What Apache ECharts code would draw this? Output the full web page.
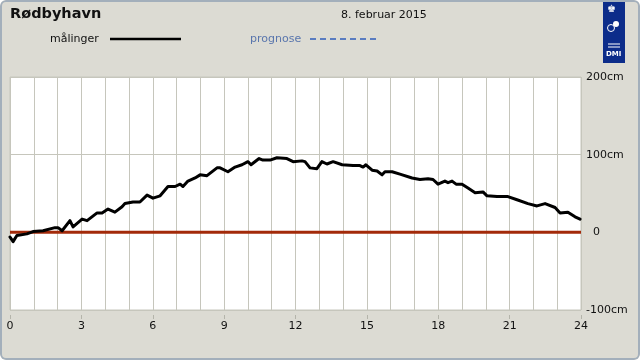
<!DOCTYPE html>
<html>
<head>
<meta charset="utf-8">
<script src="https://cdn.jsdelivr.net/npm/echarts@6/dist/echarts.min.js"></script>
<style>
  html, body { margin: 0; padding: 0; background: #ffffff; }
  #wrap { position: relative; width: 640px; height: 360px; background: #dcdbd3; border-radius: 6px; overflow: hidden; }
  #chart { position: absolute; left: 0; top: 0; width: 640px; height: 360px; }
  #frame { position: absolute; left: 0; top: 0; width: 640px; height: 360px; box-sizing: border-box;
           border: 2px solid #a3afbb; border-radius: 6px; pointer-events: none; }
</style>
</head>
<body>
<div id="wrap"><div id="chart"></div><div id="frame"></div></div>
<script>
// ---- data ----
const stationName = 'Rødbyhavn';
const dateLabel = '8. februar 2015';
const legendMeasured = 'målinger';
const legendForecast = 'prognose';
const hourTicks = [0, 3, 6, 9, 12, 15, 18, 21, 24];
const levelTicks = [-100, 0, 100, 200];

const hours = [
  0.00, 0.13, 0.29, 0.71, 0.97, 1.39, 1.89, 2.02, 2.19, 2.52, 2.65, 3.03, 3.24, 3.66, 3.87,
  4.12, 4.41, 4.71, 4.83, 5.17, 5.46, 5.76, 6.01, 6.31, 6.64, 6.94, 7.15, 7.27, 7.48, 7.78,
  7.99, 8.28, 8.70, 8.83, 9.16, 9.46, 9.75, 10.00, 10.13, 10.47, 10.63, 10.93, 11.22, 11.64, 11.90,
  12.27, 12.40, 12.61, 12.90, 13.11, 13.32, 13.58, 13.96, 14.42, 14.71, 14.84, 14.96, 15.22, 15.43, 15.64,
  15.76, 16.06, 16.39, 16.90, 17.23, 17.57, 17.78, 17.99, 18.28, 18.41, 18.58, 18.75, 19.00, 19.25, 19.55,
  19.88, 20.05, 20.47, 20.93, 21.31, 21.77, 22.15, 22.49, 22.91, 23.12, 23.45, 23.75, 23.96
];
const levels = [
  -6, -12, -4, -2, 1, 2, 6, 6, 2, 15, 7, 17, 15, 25, 25,
  30, 26, 33, 37, 39, 39, 48, 44, 47, 59, 59, 62, 59, 66, 70,
  74, 73, 83, 83, 78, 84, 87, 91, 87, 95, 93, 93, 96, 95, 91,
  92, 91, 83, 82, 91, 88, 91, 87, 86, 86, 84, 87, 80, 79, 74,
  78, 78, 75, 70, 68, 69, 68, 62, 66, 64, 66, 62, 62, 57, 51,
  52, 47, 46, 46, 42, 37, 34, 37, 32, 25, 26, 20, 17
];
const zeroLevel = [[0, 0], [24, 0]];

// ---- chart ----
const chart = echarts.init(document.getElementById('chart'), null, { renderer: 'canvas' });
const FONT = 'DejaVu Sans';
const gridColor = '#c6c6bc';

const option = {
  animation: false,
  backgroundColor: 'transparent',
  textStyle: { fontFamily: FONT },
  grid: {
    left: 10, right: 59, top: 77, bottom: 50,
    show: true, backgroundColor: '#ffffff', borderColor: gridColor, borderWidth: 1
  },
  xAxis: [
    {
      type: 'value', min: 0, max: 24, interval: 1,
      axisLine: { show: false }, axisTick: { show: false }, axisLabel: { show: false },
      splitLine: { show: true, lineStyle: { color: gridColor, width: 1 } }
    },
    {
      type: 'value', min: 0, max: 24, interval: 3, position: 'bottom', offset: 5,
      axisLine: { show: false },
      axisTick: { show: true, length: 4, lineStyle: { color: '#b4b4aa' } },
      axisLabel: {
        show: true, margin: 6, fontSize: 11, color: '#111', fontFamily: FONT,
        formatter: v => hourTicks.includes(v) ? String(v) : ''
      },
      splitLine: { show: false }
    }
  ],
  yAxis: {
    type: 'value', min: levelTicks[0], max: levelTicks[levelTicks.length - 1], interval: 100,
    position: 'right',
    axisLine: { show: false }, axisTick: { show: false },
    axisLabel: {
      margin: 5, fontSize: 11, color: '#111', fontFamily: FONT,
      formatter: v => v === 0 ? '  0' : v + 'cm'
    },
    splitLine: { show: true, lineStyle: { color: gridColor, width: 1 } }
  },
  series: [
    {
      name: 'zero', type: 'line', xAxisIndex: 0, data: zeroLevel, symbol: 'none', z: 2,
      lineStyle: { color: '#a32a0a', width: 3 }, silent: true
    },
    {
      name: legendMeasured, type: 'line', xAxisIndex: 0,
      data: hours.map((h, i) => [h, levels[i]]),
      symbol: 'none', z: 3,
      lineStyle: { color: '#000000', width: 3, join: 'round', cap: 'round' }
    }
  ],
  graphic: [
    { type: 'text', left: 10, top: 7, style: { text: stationName, font: 'bold 14.5px "DejaVu Sans"', fill: '#111' } },
    { type: 'text', left: 341, top: 10, style: { text: dateLabel, font: '11px "DejaVu Sans"', fill: '#111' } },
    { type: 'text', left: 50, top: 34, style: { text: legendMeasured, font: '11px "DejaVu Sans"', fill: '#111' } },
    { type: 'line', shape: { x1: 110, y1: 39, x2: 181, y2: 39 }, style: { stroke: '#000', lineWidth: 2.5 } },
    { type: 'text', left: 250, top: 34, style: { text: legendForecast, font: '11px "DejaVu Sans"', fill: '#5a76ad' } },
    { type: 'line', shape: { x1: 310, y1: 39, x2: 376, y2: 39 }, style: { stroke: '#5a7cc0', lineWidth: 2, lineDash: [6, 4] } },
    // DMI logo
    { type: 'rect', shape: { x: 603, y: 1, width: 22, height: 62 }, style: { fill: '#0c2c8a' } },
    { type: 'text', left: 607, top: 4, style: { text: '♚', font: '10px "DejaVu Sans"', fill: '#fff' } },
    { type: 'circle', shape: { cx: 616, cy: 24, r: 3 }, style: { fill: '#fff' } },
    { type: 'circle', shape: { cx: 611, cy: 28, r: 3.5 }, style: { fill: 'none', stroke: '#fff', lineWidth: 1 } },
    { type: 'line', shape: { x1: 608, y1: 44, x2: 620, y2: 44 }, style: { stroke: '#fff', lineWidth: 1 } },
    { type: 'line', shape: { x1: 608, y1: 47, x2: 620, y2: 47 }, style: { stroke: '#fff', lineWidth: 1 } },
    { type: 'text', left: 606, top: 51, style: { text: 'DMI', font: 'bold 7px "DejaVu Sans"', fill: '#fff' } }
  ]
};
chart.setOption(option);
</script>
</body>
</html>
